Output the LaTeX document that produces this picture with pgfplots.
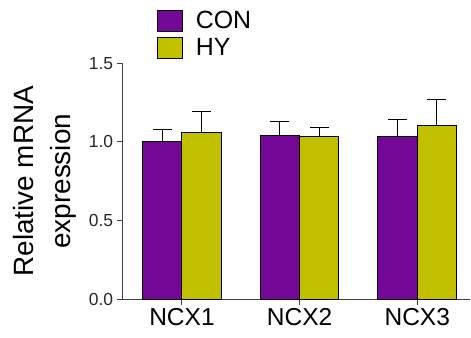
\documentclass[border=0pt]{standalone}
\usepackage{pgfplots}
\pgfplotsset{compat=1.18}
\usepackage{fontspec}
\setmainfont{Liberation Sans}
\definecolor{con}{RGB}{115,8,150}
\definecolor{hy}{RGB}{192,192,0}
\definecolor{axgray}{RGB}{64,64,64}
\begin{document}
\begin{tikzpicture}
\useasboundingbox (-122.7bp,-38.7bp) rectangle (348.3bp,299.3bp);
\begin{axis}[
  at={(0,0)}, anchor=south west,
  scale only axis, width=347.5bp, height=236bp,
  xmin=-0.504, xmax=2.45, ymin=0, ymax=1.5,
  axis lines*=left,
  axis line style={axgray, line width=1bp},
  ybar=0pt, bar width=39.3bp,
  ytick={0,0.5,1,1.5},
  /pgf/number format/assume math mode=true,
  xtick={0,1,2}, xticklabels={NCX1,NCX2,NCX3},
  tick align=outside, major tick length=6bp,
  tick style={axgray, line width=1bp},
  yticklabel style={font=\fontsize{17.5}{18}\selectfont, text=axgray!60!black,
    /pgf/number format/fixed, /pgf/number format/fixed zerofill, /pgf/number format/precision=1},
  xticklabel style={font=\fontsize{24.6}{25}\selectfont},
  ylabel={Relative mRNA\\expression},
  ylabel style={align=center, font=\fontsize{28}{37}\selectfont, at={(axis description cs:-0.2250,0.5)}, anchor=center},
  legend style={at={(axis description cs:0.0978,1.229)}, anchor=north west, draw=none, fill=none, inner sep=0pt, row sep=4bp, font=\fontsize{25}{25}\selectfont,
    /tikz/every odd column/.append style={column sep=11bp}},
  legend cell align=left,
  clip=false,
]
\addplot[fill=con, draw=black, line width=1bp,
  legend image code/.code={\draw[fill=con, draw=black, line width=1bp] (0bp,-10.5bp) rectangle (25bp,10.5bp);},
  error bars/.cd, y dir=plus, y explicit,
  error bar style={line width=1bp, black},
  error mark options={rotate=90, mark size=9.5bp, line width=1bp, black}]
  coordinates {(0,1.000) +- (0,0.078) (1,1.038) +- (0,0.094) (2,1.032) +- (0,0.110)};
\addplot[fill=hy, draw=black, line width=1bp,
  legend image code/.code={\draw[fill=hy, draw=black, line width=1bp] (0bp,-10.5bp) rectangle (25bp,10.5bp);},
  error bars/.cd, y dir=plus, y explicit,
  error bar style={line width=1bp, black},
  error mark options={rotate=90, mark size=9.5bp, line width=1bp, black}]
  coordinates {(0,1.059) +- (0,0.134) (1,1.036) +- (0,0.053) (2,1.102) +- (0,0.171)};
\legend{CON,HY}
\end{axis}
\end{tikzpicture}
\end{document}
